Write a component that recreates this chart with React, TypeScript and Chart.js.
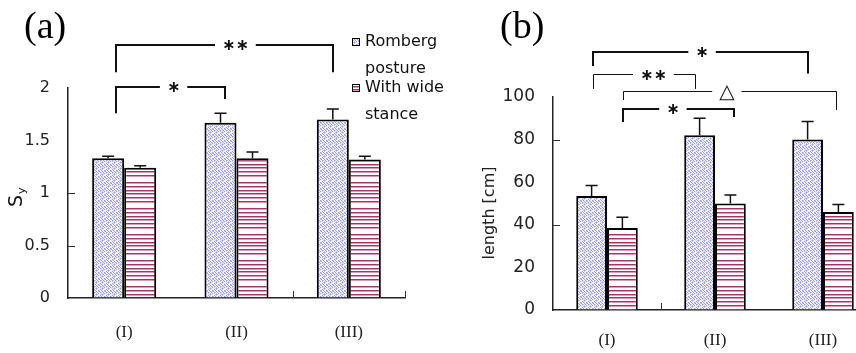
import React, { useEffect, useRef } from "react";
import { Chart, registerables } from "chart.js";

Chart.register(...registerables);

// ---------- data ----------
const categories = ["(I)", "(II)", "(III)"];
const seriesLabels = ["Romberg posture", "With wide stance"];

// panel (a): S_y
const syRomberg = [1.33, 1.67, 1.70];
const syWide = [1.24, 1.33, 1.32];
const syErrRomberg = [0.02, 0.09, 0.1];
const syErrWide = [0.02, 0.06, 0.03];

// panel (b): length [cm]
const lenRomberg = [53.5, 82, 80];
const lenWide = [38.5, 50, 46];
const lenErrRomberg = [5, 8, 8.5];
const lenErrWide = [5, 4, 3.5];

const yTitleA = "S";
const yTitleASub = "y";
const yTitleB = "length [cm]";

// significance brackets: x in category units, y in value units
const bracketsA = [
  { label: "∗∗", from: -0.07, to: 1.857, y: 2.41, leftEnd: 2.15, rightEnd: 2.15, at: 0.99, weight: 2 },
  { label: "∗", from: -0.07, to: 0.9, y: 2.01, leftEnd: 1.76, rightEnd: 1.895, at: 0.44, weight: 2 },
];
const bracketsB = [
  { label: "∗", from: -0.13, to: 1.86, y: 121, leftEnd: 114.5, rightEnd: 111, at: 0.88, weight: 2 },
  { label: "∗∗", from: -0.13, to: 0.815, y: 110.8, leftEnd: 103.8, rightEnd: 103.8, at: 0.43, weight: 1 },
  { label: "△", from: 0.15, to: 2.12, y: 102.8, leftEnd: 98.6, rightEnd: 93.9, at: 1.11, weight: 1 },
  { label: "∗", from: 0.15, to: 1.18, y: 94.4, leftEnd: 88.3, rightEnd: 90.6, at: 0.61, weight: 2 },
];

// minor tick marks drawn inside the plot
const yInnerTicksA = [0.5, 1];
const xInnerTicksA = [1.5, 2.5];
const yInnerTicksB = [40, 80];
const xInnerTicksB = [0.5];

// ---------- helpers ----------
function bluePattern(ctx: CanvasRenderingContext2D) {
  const c = document.createElement("canvas");
  c.width = 6;
  c.height = 6;
  const g = c.getContext("2d")!;
  g.fillStyle = "#f2f2ff";
  g.fillRect(0, 0, 6, 6);
  for (let x = 0; x < 6; x++) {
    for (let y = 0; y < 6; y++) {
      if ((x - y + 6) % 3 === 0 && (x + 2 * y) % 4 !== 3) {
        g.fillStyle = "#9a9aee";
        g.fillRect(x, y, 1, 1);
      } else if ((x + y) % 4 === 1) {
        g.fillStyle = "#c6c6f6";
        g.fillRect(x, y, 1, 1);
      }
    }
  }
  return ctx.createPattern(c, "repeat")!;
}

function redPattern(ctx: CanvasRenderingContext2D) {
  const c = document.createElement("canvas");
  c.width = 4;
  c.height = 26;
  const g = c.getContext("2d")!;
  g.fillStyle = "#ffffff";
  g.fillRect(0, 0, 4, 26);
  const rows = [0, 4, 8, 11, 15, 19];
  rows.forEach((r) => {
    g.fillStyle = "#a3346a";
    g.fillRect(0, r, 4, 1);
    g.fillStyle = "#d99bbb";
    g.fillRect(0, r + 1, 4, 1);
  });
  return ctx.createPattern(c, "repeat")!;
}

function splitLabel(s: string): string[] {
  const i = s.lastIndexOf(" ");
  return i > 0 ? [s.slice(0, i), s.slice(i + 1)] : [s];
}

type Bracket = { label: string; from: number; to: number; y: number; leftEnd: number; rightEnd: number; at: number; weight: number };

function drawBrackets(chart: any, brackets: Bracket[]) {
  const ctx: CanvasRenderingContext2D = chart.ctx;
  const xs = chart.scales.x;
  const ys = chart.scales.y;
  ctx.save();
  ctx.strokeStyle = "#111";
  ctx.fillStyle = "#111";
  ctx.textAlign = "center";
  ctx.textBaseline = "middle";
  brackets.forEach((b) => {
    const snap = (v: number) => (b.weight % 2 === 1 ? Math.round(v) + 0.5 : Math.round(v));
    const x1 = snap(xs.getPixelForValue(b.from));
    const x2 = snap(xs.getPixelForValue(b.to));
    const xl = xs.getPixelForValue(b.at);
    const y = snap(ys.getPixelForValue(b.y));
    const yl = ys.getPixelForValue(b.leftEnd);
    const yr = ys.getPixelForValue(b.rightEnd);
    ctx.font = b.label === "△" ? "20px 'DejaVu Sans', sans-serif" : "bold 16px 'DejaVu Sans', sans-serif";
    const w = ctx.measureText(b.label).width;
    const gap = w / 2 + 7;
    ctx.lineWidth = b.weight;
    ctx.beginPath();
    ctx.moveTo(x1, yl);
    ctx.lineTo(x1, y);
    ctx.lineTo(xl - gap, y);
    ctx.moveTo(xl + gap, y);
    ctx.lineTo(x2, y);
    ctx.lineTo(x2, yr);
    ctx.stroke();
    ctx.fillText(b.label, xl, y + 1);
  });
  ctx.restore();
}

function drawErrors(chart: any, errs: number[][]) {
  const ctx: CanvasRenderingContext2D = chart.ctx;
  const ys = chart.scales.y;
  ctx.save();
  ctx.strokeStyle = "#111";
  ctx.lineWidth = 1.5;
  chart.data.datasets.forEach((ds: any, di: number) => {
    const meta = chart.getDatasetMeta(di);
    meta.data.forEach((bar: any, i: number) => {
      const v = ds.data[i] as number;
      const yTop = ys.getPixelForValue(v);
      const yErr = ys.getPixelForValue(v + errs[di][i]);
      ctx.beginPath();
      ctx.moveTo(bar.x, yTop);
      ctx.lineTo(bar.x, yErr);
      ctx.moveTo(bar.x - 6, yErr);
      ctx.lineTo(bar.x + 6, yErr);
      ctx.stroke();
    });
  });
  ctx.restore();
}

function drawInnerTicks(chart: any, yTicks: number[], xTicks: number[]) {
  const ctx: CanvasRenderingContext2D = chart.ctx;
  const xs = chart.scales.x;
  const ys = chart.scales.y;
  const area = chart.chartArea;
  ctx.save();
  ctx.strokeStyle = "#333";
  ctx.lineWidth = 1;
  ctx.beginPath();
  yTicks.forEach((v) => {
    const y = Math.round(ys.getPixelForValue(v)) + 0.5;
    ctx.moveTo(area.left, y);
    ctx.lineTo(area.left + 7, y);
  });
  xTicks.forEach((v) => {
    const x = Math.round(xs.getPixelForValue(v)) + 0.5;
    ctx.moveTo(x, area.bottom);
    ctx.lineTo(x, area.bottom - 7);
  });
  ctx.stroke();
  ctx.restore();
}

function baseOptions(opts: {
  yMax: number;
  yStep: number;
  yWidth: number;
  xHeight: number;
  padTop: number;
  padRight: number;
  tickFontSize: number;
  xPad: number;
}) {
  return {
    responsive: false,
    animation: false as const,
    devicePixelRatio: 1,
    events: [] as any[],
    layout: { padding: { left: 0, top: opts.padTop, right: opts.padRight, bottom: 0 } },
    plugins: { legend: { display: false }, tooltip: { enabled: false }, title: { display: false } },
    scales: {
      x: {
        type: "category" as const,
        offset: true,
        grid: { display: true, drawOnChartArea: false, drawTicks: false },
        border: { display: true, color: "#222", width: 1.5 },
        ticks: {
          padding: opts.xPad,
          color: "#222",
          font: { family: "'Liberation Serif', serif", size: 17 },
          maxRotation: 0,
        },
        afterFit: (s: any) => {
          s.height = opts.xHeight;
        },
      },
      y: {
        type: "linear" as const,
        min: 0,
        max: opts.yMax,
        grid: { display: true, drawOnChartArea: false, drawTicks: false },
        border: { display: true, color: "#222", width: 1.5 },
        ticks: {
          stepSize: opts.yStep,
          padding: 18,
          color: "#222",
          font: { family: "'DejaVu Sans', sans-serif", size: opts.tickFontSize },
          callback: (v: any) => String(Number(v)),
        },
        afterFit: (s: any) => {
          s.width = opts.yWidth;
        },
      },
    },
  };
}

export default function App() {
  const refA = useRef<HTMLCanvasElement>(null);
  const refB = useRef<HTMLCanvasElement>(null);

  useEffect(() => {
    document.body.style.margin = "0";
    const ctxA = refA.current!.getContext("2d")!;
    const ctxB = refB.current!.getContext("2d")!;
    const blueA = bluePattern(ctxA);
    const redA = redPattern(ctxA);
    const blueB = bluePattern(ctxB);
    const redB = redPattern(ctxB);

    const barStyle = {
      borderColor: "#000",
      borderWidth: { top: 2, left: 2, right: 2, bottom: 0 },
      borderSkipped: "start" as const,
      categoryPercentage: 0.57,
      barPercentage: 1.0,
    };

    const chartA = new Chart(refA.current!, {
      type: "bar",
      data: {
        labels: categories,
        datasets: [
          { label: seriesLabels[0], data: syRomberg, backgroundColor: blueA, ...barStyle },
          { label: seriesLabels[1], data: syWide, backgroundColor: redA, ...barStyle },
        ],
      },
      options: baseOptions({
        yMax: 2,
        yStep: 0.5,
        yWidth: 68,
        xHeight: 55,
        padTop: 88,
        padRight: 55,
        tickFontSize: 16,
        xPad: 24,
      }) as any,
      plugins: [
        {
          id: "decorA",
          afterDatasetsDraw(chart: any) {
            drawErrors(chart, [syErrRomberg, syErrWide]);
          },
          afterDraw(chart: any) {
            const ctx: CanvasRenderingContext2D = chart.ctx;
            drawInnerTicks(chart, yInnerTicksA, xInnerTicksA);
            drawBrackets(chart, bracketsA);
            ctx.save();
            // panel label
            ctx.fillStyle = "#000";
            ctx.font = "38px 'Liberation Serif', serif";
            ctx.textAlign = "left";
            ctx.textBaseline = "alphabetic";
            ctx.fillText("(a)", 24, 38);
            // y title
            ctx.translate(17, 198);
            ctx.rotate(-Math.PI / 2);
            ctx.font = "19px 'DejaVu Sans', sans-serif";
            ctx.textAlign = "left";
            ctx.textBaseline = "middle";
            ctx.fillStyle = "#111";
            const sw = ctx.measureText(yTitleA).width;
            ctx.fillText(yTitleA, -sw / 2 - 3, 0);
            ctx.font = "11px 'DejaVu Sans', sans-serif";
            ctx.fillText(yTitleASub, sw / 2 - 2, 5);
            ctx.restore();
            // legend
            ctx.save();
            ctx.font = "16px 'DejaVu Sans', sans-serif";
            ctx.textAlign = "left";
            ctx.textBaseline = "middle";
            ctx.fillStyle = "#111";
            const fills = [blueA, redA];
            seriesLabels.forEach((lab, i) => {
              const cy = 42 + i * 46;
              ctx.fillStyle = fills[i];
              ctx.fillRect(352, cy - 4, 8, 8);
              ctx.strokeStyle = "#000";
              ctx.lineWidth = 1;
              ctx.strokeRect(352.5, cy - 3.5, 7, 7);
              ctx.fillStyle = "#111";
              splitLabel(lab).forEach((line, li) => {
                ctx.fillText(line, 365, cy + li * 27);
              });
            });
            ctx.restore();
          },
        },
      ],
    });

    const chartB = new Chart(refB.current!, {
      type: "bar",
      data: {
        labels: categories,
        datasets: [
          { label: seriesLabels[0], data: lenRomberg, backgroundColor: blueB, ...barStyle },
          { label: seriesLabels[1], data: lenWide, backgroundColor: redB, ...barStyle },
        ],
      },
      options: baseOptions({
        yMax: 100,
        yStep: 20,
        yWidth: 113,
        xHeight: 43,
        padTop: 97,
        padRight: 23,
        tickFontSize: 17,
        xPad: 20,
      }) as any,
      plugins: [
        {
          id: "decorB",
          afterDatasetsDraw(chart: any) {
            drawErrors(chart, [lenErrRomberg, lenErrWide]);
          },
          afterDraw(chart: any) {
            const ctx: CanvasRenderingContext2D = chart.ctx;
            drawInnerTicks(chart, yInnerTicksB, xInnerTicksB);
            drawBrackets(chart, bracketsB);
            ctx.save();
            ctx.fillStyle = "#000";
            ctx.font = "38px 'Liberation Serif', serif";
            ctx.textAlign = "left";
            ctx.textBaseline = "alphabetic";
            ctx.fillText("(b)", 60, 38);
            ctx.translate(50, 213);
            ctx.rotate(-Math.PI / 2);
            ctx.font = "16px 'DejaVu Sans', sans-serif";
            ctx.textAlign = "center";
            ctx.textBaseline = "middle";
            ctx.fillStyle = "#222";
            ctx.fillText(yTitleB, 0, 0);
            ctx.restore();
          },
        },
      ],
    });

    return () => {
      chartA.destroy();
      chartB.destroy();
    };
  }, []);

  return (
    <div
      style={{
        position: "fixed",
        left: 0,
        top: 0,
        width: 856,
        height: 353,
        overflow: "hidden",
        background: "#fff",
      }}
    >
      <canvas ref={refA} width={460} height={353} style={{ position: "absolute", left: 0, top: 0, width: 460, height: 353 }} />
      <canvas ref={refB} width={460} height={353} style={{ position: "absolute", left: 440, top: 0, width: 460, height: 353 }} />
    </div>
  );
}
